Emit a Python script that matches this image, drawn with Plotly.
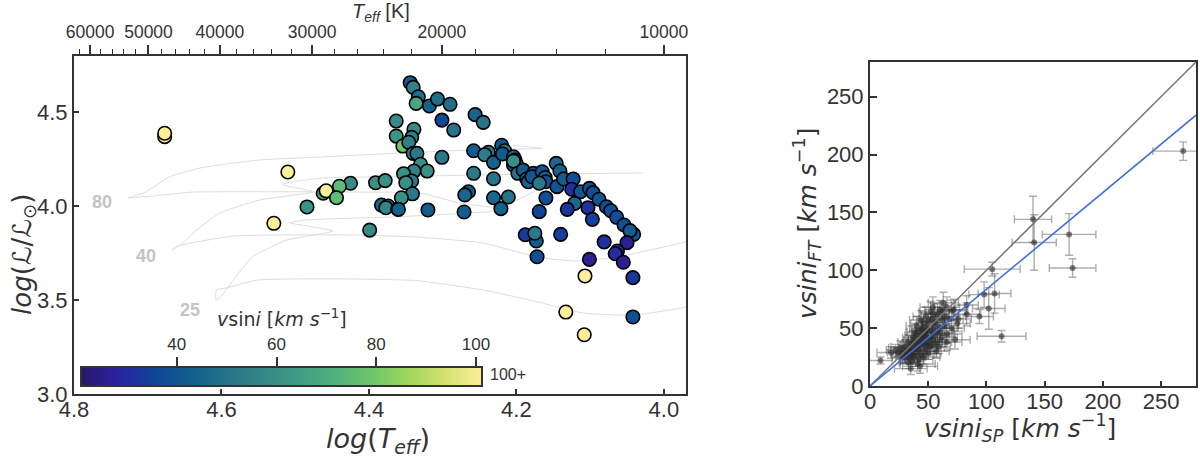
import math
import plotly.graph_objects as go

W, H = 1200, 457

# left panel: stars in the HRD
logteff = [4.677, 4.677, 4.510, 4.363, 4.363, 4.354, 4.425, 4.391, 4.378, 4.440,
           4.462, 4.458, 4.444, 4.484, 4.529, 4.399, 4.383, 4.374, 4.377, 4.361,
           4.344, 4.340, 4.333, 4.336, 4.318, 4.307, 4.290, 4.301, 4.285, 4.256,
           4.245, 4.339, 4.342, 4.346, 4.340, 4.335, 4.301, 4.258, 4.330, 4.321,
           4.339, 4.353, 4.342, 4.350, 4.341, 4.356, 4.360, 4.320, 4.271, 4.265,
           4.270, 4.258, 4.231, 4.231, 4.211, 4.221, 4.238, 4.243, 4.231, 4.220,
           4.216, 4.219, 4.204, 4.202, 4.200, 4.204, 4.204, 4.198, 4.191, 4.186,
           4.184, 4.177, 4.179, 4.165, 4.161, 4.160, 4.169, 4.145, 4.160, 4.169,
           4.146, 4.141, 4.136, 4.123, 4.125, 4.113, 4.121, 4.131, 4.103, 4.097,
           4.101, 4.096, 4.088, 4.078, 4.072, 4.064, 4.054, 4.041, 4.046, 4.188,
           4.173, 4.175, 4.172, 4.140, 4.050, 4.081, 4.063, 4.066, 4.101, 4.055,
           4.107, 4.042, 4.133, 4.042, 4.108]
logl = [4.369, 4.387, 4.181, 4.452, 4.372, 4.319, 4.121, 4.124, 4.135, 4.105,
        4.068, 4.081, 4.044, 3.995, 3.908, 3.872, 4.005, 4.000, 3.991, 3.984,
        4.656, 4.631, 4.581, 4.546, 4.532, 4.569, 4.541, 4.457, 4.404, 4.486,
        4.445, 4.408, 4.365, 4.339, 4.280, 4.280, 4.259, 4.294, 4.222, 4.186,
        4.186, 4.172, 4.133, 4.124, 4.065, 4.044, 3.982, 3.979, 3.968, 4.076,
        4.059, 4.174, 4.145, 4.044, 4.048, 3.986, 4.286, 4.273, 4.232, 4.323,
        4.294, 4.277, 4.262, 4.245, 4.223, 4.218, 4.239, 4.174, 4.191, 4.144,
        4.129, 4.174, 4.156, 4.182, 4.151, 4.129, 4.121, 4.103, 4.043, 3.970,
        4.227, 4.186, 4.144, 4.144, 4.089, 4.076, 4.014, 3.982, 3.991, 3.929,
        4.094, 4.071, 4.036, 3.996, 3.975, 3.940, 3.899, 3.849, 3.869, 3.847,
        3.814, 3.855, 3.730, 3.849, 3.805, 3.809, 3.761, 3.746, 3.716, 3.701,
        3.628, 3.619, 3.436, 3.410, 3.315]
vsini = [120, 120, 120, 58, 62, 78, 58, 60, 60, 75,
         65, 120, 75, 60, 120, 58, 45, 50, 56, 42,
         42, 55, 48, 68, 44, 48, 48, 36, 50, 45,
         50, 58, 54, 54, 55, 52, 52, 42, 60, 60,
         55, 60, 52, 60, 52, 60, 43, 42, 42, 42,
         45, 52, 50, 46, 50, 44, 50, 53, 44, 40,
         52, 42, 45, 45, 45, 42, 60, 50, 42, 48,
         45, 38, 40, 40, 45, 38, 52, 40, 38, 35,
         46, 44, 42, 38, 31, 40, 46, 32, 31, 34,
         38, 38, 40, 38, 38, 38, 38, 40, 42, 33,
         42, 52, 38, 34, 27, 31, 26, 30, 27, 26,
         120, 32, 120, 38, 120]

# evolutionary tracks
track80_t = [4.172, 4.205, 4.232, 4.277, 4.331, 4.412, 4.530, 4.639, 4.693, 4.711, 4.727,
             4.719, 4.702, 4.670, 4.629, 4.548, 4.458, 4.358, 4.259, 4.166, 4.205]
track80_l = [4.085, 4.021, 3.995, 4.016, 4.069, 4.074, 4.076, 4.074, 4.053, 4.048, 4.043,
             4.053, 4.076, 4.156, 4.202, 4.245, 4.262, 4.282, 4.298, 4.307, 4.323]
track40_t = [4.028, 4.258, 4.358, 4.463, 4.518, 4.476, 4.548, 4.602, 4.634, 4.652, 4.667,
             4.659, 4.585, 4.426, 4.335, 4.245, 4.172, 4.118, 4.064, 3.970]
track40_l = [4.176, 4.165, 4.156, 4.149, 4.115, 4.076, 4.032, 3.963, 3.872, 3.803, 3.766,
             3.787, 3.840, 3.846, 3.835, 3.803, 3.729, 3.707, 3.729, 3.809]
track25_t = [4.232, 4.358, 4.486, 4.507, 4.449, 4.511, 4.558, 4.589, 4.600, 4.607, 4.607,
             4.593, 4.552, 4.426, 4.335, 4.245, 4.172, 4.110, 4.042, 3.970]
track25_l = [3.970, 3.943, 3.926, 3.911, 3.867, 3.819, 3.730, 3.580, 3.521, 3.500, 3.553,
             3.564, 3.606, 3.612, 3.603, 3.553, 3.491, 3.431, 3.420, 3.461]

teff_major = [10000, 20000, 30000, 40000, 50000, 60000]
teff_minor = [12000, 14000, 16000, 18000, 22000, 24000, 26000, 28000, 32000, 34000, 36000,
              38000, 42000, 44000, 46000, 48000, 52000, 54000, 56000, 58000, 62000]
cbar_vals = list(range(21, 102))

# right panel: vsini comparison
v_sp = [269, 140, 141, 171, 174, 105, 107, 98, 102, 94, 113, 83, 83, 9, 18, 35, 43, 73, 75, 62,
        70, 66, 60, 58, 64, 68, 56, 52, 48, 62,
        55, 50, 46, 44, 58, 60, 53, 49, 47, 42,
        56, 52, 48, 45, 43, 40, 38, 50, 54, 46,
        44, 41, 38, 36, 34, 48, 52, 42, 39, 35,
        32, 30, 28, 26, 24, 22, 36, 40, 44, 47,
        38, 34, 31, 28, 42, 46, 50, 36, 33, 41,
        62, 58, 55, 66, 70, 64, 60, 51, 47, 57,
        49, 45, 43, 41, 39, 37, 53, 55, 35, 33,
        72, 76, 66, 59, 63, 54, 44, 40, 30, 27]
v_ft = [203, 144, 124, 131, 102, 101, 80, 79, 67, 60, 43, 62, 70, 22, 29, 15, 17, 40, 54, 65,
        65, 68, 66, 62, 60, 58, 55, 64, 60, 57,
        52, 56, 54, 50, 48, 46, 47, 50, 46, 47,
        44, 42, 45, 43, 41, 44, 40, 38, 40, 37,
        36, 38, 35, 37, 33, 34, 33, 31, 32, 30,
        31, 34, 30, 33, 29, 31, 27, 28, 27, 30,
        25, 24, 27, 25, 23, 25, 28, 21, 20, 19,
        42, 38, 36, 45, 50, 52, 50, 35, 42, 30,
        48, 49, 39, 35, 46, 42, 58, 62, 28, 38,
        66, 58, 38, 34, 72, 68, 57, 52, 24, 28]
err_sp = [26, 16, 19, 23, 20, 24, 14, 13, 14, 12, 21, 12, 10, 10, 12, 14, 15, 13, 11, 10,
          12, 11, 13, 10, 12, 12, 11, 10, 11, 12,
          10, 9, 11, 10, 13, 12, 10, 9, 11, 10,
          12, 9, 10, 9, 11, 10, 9, 12, 11, 10,
          9, 10, 11, 8, 9, 10, 12, 9, 10, 8,
          9, 12, 8, 10, 9, 8, 10, 9, 11, 10,
          10, 9, 8, 9, 12, 14, 11, 10, 8, 15,
          13, 12, 10, 13, 11, 12, 12, 10, 9, 11,
          10, 9, 10, 9, 8, 9, 11, 12, 8, 9,
          12, 11, 13, 10, 13, 11, 10, 9, 8, 9]
err_ft = [8, 20, 24, 18, 8, 6, 17, 11, 18, 6, 5, 10, 8, 3, 5, 5, 6, 8, 7, 8,
          9, 9, 8, 9, 10, 8, 8, 9, 8, 7,
          8, 7, 9, 8, 7, 8, 6, 9, 7, 8,
          6, 7, 8, 6, 7, 6, 8, 5, 7, 6,
          6, 5, 7, 6, 5, 6, 5, 6, 5, 6,
          5, 6, 5, 6, 4, 5, 5, 6, 5, 6,
          5, 5, 4, 5, 5, 6, 5, 4, 5, 6,
          8, 7, 6, 8, 7, 8, 9, 6, 7, 6,
          8, 7, 6, 5, 7, 6, 9, 9, 5, 6,
          9, 8, 7, 6, 9, 9, 8, 8, 4, 5]
one_to_one = [0, 280]
fit_line = [0, 234]

DARK = "#333333"
FONT = "Liberation Sans"
MATH_FONT = "DejaVu Sans"


def px_x(a, b):
    return [a / W, b / W]


def px_y(top, bottom):
    return [1 - bottom / H, 1 - top / H]


fig = go.Figure()

for tx, ty in [(track80_t, track80_l), (track40_t, track40_l), (track25_t, track25_l)]:
    fig.add_trace(go.Scatter(x=tx, y=ty, mode="lines", hoverinfo="skip",
                             line=dict(color="#dddddd", width=1, shape="spline", smoothing=0.5)))

fig.add_trace(go.Scatter(x=logteff, y=logl, mode="markers",
                         marker=dict(size=13.5, color=vsini, coloraxis="coloraxis",
                                     line=dict(color="black", width=1.6))))

# top Teff axis needs a trace of its own to be drawn
fig.add_trace(go.Scatter(x=[math.log10(t) for t in teff_major], y=[3.0] * len(teff_major),
                         xaxis="x2", yaxis="y", mode="none", hoverinfo="skip"))

# colour bar drawn as a heatmap so the ticks can sit on top
fig.add_trace(go.Heatmap(x=cbar_vals, y=[0], z=[cbar_vals], xaxis="x3", yaxis="y3",
                         coloraxis="coloraxis", zsmooth="best", hoverinfo="skip"))

fig.add_trace(go.Scatter(x=v_sp, y=v_ft, xaxis="x4", yaxis="y4", mode="markers",
                         marker=dict(size=6, color="rgba(45,45,45,0.6)"),
                         error_x=dict(type="data", array=err_sp, color="rgba(60,60,60,0.42)",
                                      thickness=1.4, width=4),
                         error_y=dict(type="data", array=err_ft, color="rgba(60,60,60,0.42)",
                                      thickness=1.4, width=4)))
fig.add_trace(go.Scatter(x=one_to_one, y=one_to_one, xaxis="x4", yaxis="y4", mode="lines",
                         line=dict(color="#777777", width=1.5)))
fig.add_trace(go.Scatter(x=one_to_one, y=fit_line, xaxis="x4", yaxis="y4", mode="lines",
                         line=dict(color="#3f6ee0", width=1.6)))

axis_base = dict(showgrid=False, zeroline=False, showline=True, linecolor=DARK, linewidth=2,
                 mirror=True, ticks="inside", tickcolor=DARK, tickwidth=1.5, ticklen=5,
                 tickfont=dict(family=FONT, size=22, color=DARK))

fig.update_layout(
    width=W, height=H, template="none", showlegend=False,
    margin=dict(l=0, r=0, t=0, b=0),
    paper_bgcolor="white", plot_bgcolor="white",
    font=dict(family=FONT, color=DARK),
    coloraxis=dict(colorscale="haline", cmin=21, cmax=101, showscale=False),
    xaxis=dict(axis_base, domain=px_x(74, 686), range=[4.8, 3.97], ticklabelstandoff=-5,
               tickvals=[4.8, 4.6, 4.4, 4.2, 4.0], ticktext=["4.8", "4.6", "4.4", "4.2", "4.0"]),
    yaxis=dict(axis_base, domain=px_y(56, 394), range=[3.0, 4.798],
               tickvals=[3.0, 3.5, 4.0, 4.5], ticktext=["3.0", "3.5", "4.0", "4.5"]),
    xaxis2=dict(axis_base, overlaying="x", anchor="y", side="top", range=[4.8, 3.97],
                mirror=False, ticks="outside", ticklen=9,
                tickfont=dict(family=FONT, size=17.5, color=DARK),
                tickvals=[math.log10(t) for t in teff_major], ticktext=[str(t) for t in teff_major],
                minor=dict(tickmode="array", tickvals=[math.log10(t) for t in teff_minor],
                           ticks="outside", ticklen=5, tickcolor=DARK, tickwidth=1.2)),
    xaxis3=dict(axis_base, domain=px_x(82, 481), anchor="y3", side="top", range=[21, 101],
                ticks="outside", ticklen=9, tickvals=[40, 60, 80, 100],
                tickfont=dict(family=FONT, size=17, color=DARK)),
    yaxis3=dict(axis_base, domain=px_y(368, 385), anchor="x3", range=[-0.5, 0.5],
                ticks="", showticklabels=False),
    xaxis4=dict(axis_base, domain=px_x(870, 1196), anchor="y4", range=[0, 280], ticklabelstandoff=-5,
                tickvals=[0, 50, 100, 150, 200, 250]),
    yaxis4=dict(axis_base, domain=px_y(62, 386), anchor="x4", range=[0, 280],
                ticklen=7, tickvals=[0, 50, 100, 150, 200, 250]),
)


def note(text, x, y, size, color=DARK, angle=0, bold=False, family=FONT):
    if bold:
        text = f"<b>{text}</b>"
    fig.add_annotation(text=text, x=x / W, y=1 - y / H, xref="paper", yref="paper",
                       showarrow=False, textangle=angle, xanchor="center", yanchor="middle",
                       font=dict(family=family, size=size, color=color))


note("<i>T<sub>eff</sub></i> [K]", 381, 12, 20)
note("<i>log</i>(<i>T<sub>eff</sub></i>)", 378, 440, 27, family=MATH_FONT)
note("<i>log</i>(ℒ/ℒ<sub>⊙</sub>)", 23, 255, 26, angle=-90, family=MATH_FONT)
note("<i>vsini<sub>FT</sub></i> [<i>km s</i><sup>−1</sup>]", 807, 224, 25, angle=-90, family=MATH_FONT)
note("<i>vsini<sub>SP</sub></i> [<i>km s</i><sup>−1</sup>]", 1020, 428, 25, family=MATH_FONT)
note("<i>v</i>sin<i>i</i> [<i>km s</i><sup>−1</sup>]", 282, 318, 19, family=MATH_FONT)
note("100+", 508, 374, 16)
note("80", 102, 202, 18, color="#c4c4c4", bold=True)
note("40", 146, 256, 18, color="#c4c4c4", bold=True)
note("25", 190, 310, 18, color="#c4c4c4", bold=True)

fig.write_html("out.html", config=dict(displayModeBar=False),
               post_script="document.body.style.margin='0';document.body.style.overflow='hidden';")
